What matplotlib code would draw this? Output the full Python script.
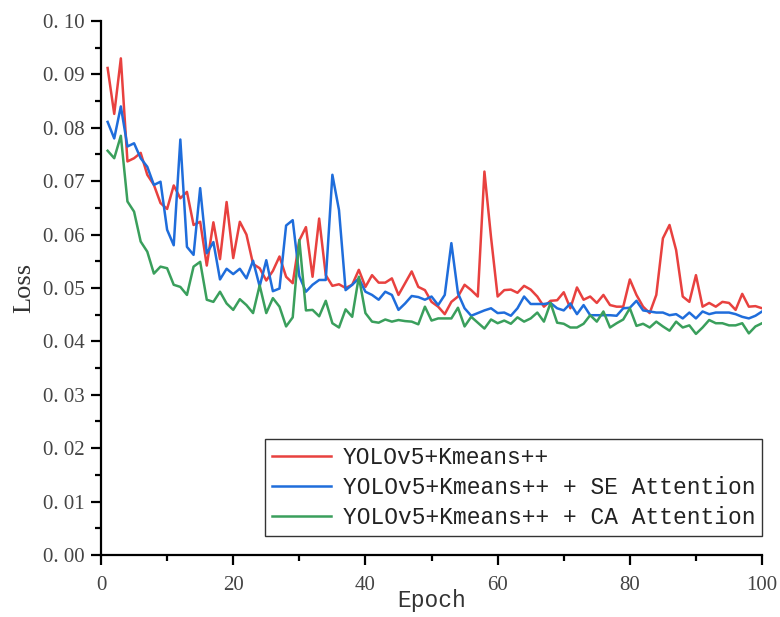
import numpy as np
import matplotlib
matplotlib.use('Agg')
import matplotlib.pyplot as plt
from matplotlib.ticker import MultipleLocator, FuncFormatter

epochs = np.arange(1, 101)

loss_kmeans = [0.0912, 0.0826, 0.0930, 0.0737, 0.0743, 0.0753, 0.0712, 0.0693, 0.0659, 0.0648,
               0.0692, 0.0668, 0.0680, 0.0618, 0.0624, 0.0542, 0.0623, 0.0554, 0.0661, 0.0556,
               0.0624, 0.0600, 0.0545, 0.0537, 0.0514, 0.0532, 0.0559, 0.0521, 0.0509, 0.0589,
               0.0614, 0.0521, 0.0630, 0.0524, 0.0504, 0.0507, 0.0500, 0.0506, 0.0534, 0.0502,
               0.0524, 0.0510, 0.0510, 0.0518, 0.0487, 0.0509, 0.0531, 0.0502, 0.0496, 0.0474,
               0.0465, 0.0451, 0.0474, 0.0484, 0.0506, 0.0496, 0.0484, 0.0718, 0.0595, 0.0484,
               0.0496, 0.0497, 0.0491, 0.0504, 0.0497, 0.0484, 0.0465, 0.0476, 0.0477, 0.0492,
               0.0462, 0.0501, 0.0478, 0.0484, 0.0472, 0.0487, 0.0468, 0.0465, 0.0465, 0.0516,
               0.0487, 0.0465, 0.0453, 0.0487, 0.0593, 0.0618, 0.0571, 0.0484, 0.0474, 0.0524,
               0.0465, 0.0472, 0.0465, 0.0474, 0.0472, 0.0459, 0.0489, 0.0465, 0.0466, 0.0462]

loss_se = [0.0811, 0.0780, 0.0840, 0.0765, 0.0771, 0.0743, 0.0727, 0.0693, 0.0699, 0.0609,
           0.0580, 0.0778, 0.0577, 0.0562, 0.0687, 0.0565, 0.0586, 0.0516, 0.0536, 0.0526,
           0.0536, 0.0518, 0.0551, 0.0503, 0.0552, 0.0494, 0.0499, 0.0617, 0.0627, 0.0522,
           0.0493, 0.0506, 0.0515, 0.0515, 0.0712, 0.0646, 0.0496, 0.0506, 0.0518, 0.0493,
           0.0487, 0.0478, 0.0493, 0.0487, 0.0459, 0.0471, 0.0485, 0.0483, 0.0478, 0.0484,
           0.0468, 0.0487, 0.0584, 0.0490, 0.0462, 0.0448, 0.0453, 0.0458, 0.0462, 0.0453,
           0.0454, 0.0448, 0.0462, 0.0484, 0.0470, 0.0470, 0.0470, 0.0472, 0.0462, 0.0458,
           0.0471, 0.0451, 0.0468, 0.0449, 0.0449, 0.0449, 0.0449, 0.0448, 0.0462, 0.0463,
           0.0476, 0.0458, 0.0456, 0.0454, 0.0454, 0.0449, 0.0451, 0.0443, 0.0454, 0.0443,
           0.0456, 0.0451, 0.0454, 0.0454, 0.0454, 0.0451, 0.0446, 0.0443, 0.0448, 0.0456]

loss_ca = [0.0757, 0.0743, 0.0785, 0.0662, 0.0643, 0.0587, 0.0568, 0.0527, 0.0540, 0.0537,
           0.0506, 0.0502, 0.0487, 0.0540, 0.0549, 0.0478, 0.0474, 0.0493, 0.0471, 0.0459,
           0.0479, 0.0468, 0.0453, 0.0505, 0.0453, 0.0481, 0.0465, 0.0428, 0.0445, 0.0590,
           0.0458, 0.0459, 0.0447, 0.0476, 0.0434, 0.0426, 0.0460, 0.0446, 0.0521, 0.0453,
           0.0437, 0.0435, 0.0441, 0.0437, 0.0440, 0.0438, 0.0437, 0.0432, 0.0465, 0.0439,
           0.0443, 0.0443, 0.0443, 0.0463, 0.0428, 0.0446, 0.0435, 0.0424, 0.0441, 0.0434,
           0.0439, 0.0433, 0.0445, 0.0437, 0.0443, 0.0454, 0.0437, 0.0472, 0.0435, 0.0433,
           0.0426, 0.0426, 0.0433, 0.0449, 0.0437, 0.0456, 0.0426, 0.0434, 0.0441, 0.0462,
           0.0429, 0.0433, 0.0426, 0.0437, 0.0428, 0.0420, 0.0437, 0.0426, 0.0430, 0.0414,
           0.0426, 0.0440, 0.0434, 0.0434, 0.0430, 0.0430, 0.0434, 0.0415, 0.0428, 0.0434]

labels = ['YOLOv5+Kmeans++',
          'YOLOv5+Kmeans++ + SE Attention',
          'YOLOv5+Kmeans++ + CA Attention']
colors = ['#e8413f', '#1f6ddb', '#3a9f5c']

serif = 'Liberation Serif'
mono = 'Liberation Mono'
plt.rcParams['font.family'] = [serif, 'DejaVu Serif']

fig = plt.figure(figsize=(7.8, 6.17), dpi=100)
ax = fig.add_axes([0.1295, 0.1005, 0.8475, 0.8655])

for series, label, color in zip([loss_kmeans, loss_se, loss_ca], labels, colors):
    ax.plot(epochs, series, color=color, lw=1.8, label=label)

ax.set_xlim(0, 100)
ax.set_ylim(0, 0.10)

# only left/bottom axis lines, ticks pointing outwards
ax.spines['top'].set_visible(False)
ax.spines['right'].set_visible(False)
for side in ['left', 'bottom']:
    ax.spines[side].set_linewidth(1.6)

ax.xaxis.set_major_locator(MultipleLocator(20))
ax.xaxis.set_minor_locator(MultipleLocator(10))
ax.yaxis.set_major_locator(MultipleLocator(0.01))
ax.yaxis.set_minor_locator(MultipleLocator(0.005))
# wide decimal point, as the labels are typeset
ax.yaxis.set_major_formatter(FuncFormatter(lambda v, p: ('%.2f' % v).replace('.', '. ')))

ax.tick_params(which='major', direction='out', length=7, width=1.6,
               labelsize=15, labelcolor='#444444')
ax.tick_params(axis='y', which='major', pad=5)
ax.tick_params(axis='x', which='major', pad=8)
ax.tick_params(which='minor', direction='out', length=4, width=1.6)

ax.set_xlabel('Epoch', fontsize=16.5, family=mono, color='#333333', labelpad=-4)
ax.set_ylabel('Loss', fontsize=19, family=serif, color='#333333', labelpad=5)

leg = ax.legend(loc='lower right', bbox_to_anchor=(1.0, 0.036), borderaxespad=0,
                prop={'family': mono, 'size': 16.5}, fancybox=False,
                edgecolor='#333333', framealpha=1, handlelength=2.6,
                handletextpad=0.5, labelspacing=0.3, borderpad=0.3)
leg.get_frame().set_linewidth(1.0)
for t in leg.get_texts():
    t.set_color('#222222')

fig.savefig('out.png', dpi=100)
